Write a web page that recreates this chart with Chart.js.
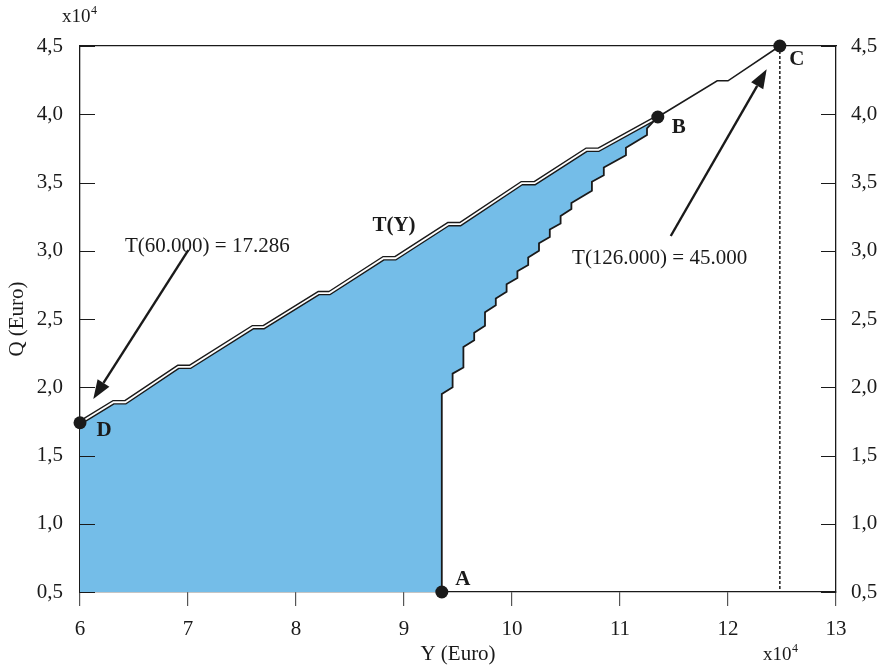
<!DOCTYPE html>
<html>
<head>
<meta charset="utf-8">
<title>T(Y)</title>
<script src="https://cdn.jsdelivr.net/npm/chart.js@4.4.1/dist/chart.umd.min.js"></script>
<style>
    html, body { margin: 0; padding: 0; background: #fff; }
    #wrap { width: 887px; height: 667px; }
</style>
</head>
<body>
<div id="wrap"><canvas id="chart"></canvas></div>
<script>
// Valeurs en x10^4 euro
const upperY = [6.0, 6.31, 6.42, 6.91, 7.02, 7.60, 7.70, 8.21, 8.31, 8.81, 8.92, 9.41, 9.52, 10.09, 10.21, 10.69, 10.80, 11.35];
const upperQ = [1.74, 1.89, 1.89, 2.15, 2.15, 2.44, 2.44, 2.69, 2.69, 2.945, 2.945, 3.195, 3.195, 3.495, 3.495, 3.74, 3.74, 3.98];

// Partie simple entre B et C
const tailY = [11.35, 11.9, 12.0, 12.48];
const tailQ = [3.98, 4.245, 4.245, 4.5];

// Escalier de A jusqu'a B
const stairY = [9.35, 9.35, 9.45, 9.45, 9.55, 9.55, 9.65, 9.65, 9.75, 9.75, 9.85, 9.85, 9.95, 9.95,
    10.05, 10.05, 10.15, 10.15, 10.25, 10.25, 10.35, 10.35, 10.45, 10.45, 10.55, 10.55,
    10.74, 10.74, 10.85, 10.85, 11.055, 11.055, 11.25, 11.25, 11.35];
const stairQ = [0.5, 1.95, 2.0, 2.1, 2.145, 2.295, 2.345, 2.40, 2.45, 2.55, 2.60, 2.65, 2.70, 2.755,
    2.80, 2.85, 2.895, 2.95, 3.0, 3.055, 3.10, 3.155, 3.20, 3.255, 3.305, 3.35,
    3.44, 3.505, 3.553, 3.61, 3.70, 3.755, 3.848, 3.897, 3.98];

// Points remarquables
const markNames = ['D', 'A', 'B', 'C'];
const markY = [6.0, 9.35, 11.35, 12.48];
const markQ = [1.74, 0.5, 3.98, 4.5];

const xTicks = [6, 7, 8, 9, 10, 11, 12, 13];
const qTicks = [0.5, 1.0, 1.5, 2.0, 2.5, 3.0, 3.5, 4.0, 4.5];

const INK = '#1a1a1a';
const BLUE = '#74bde8';
const SERIF = "'Liberation Serif', 'Times New Roman', serif";

function toPts(xs, ys) {
    return xs.map((x, i) => ({ x: x, y: ys[i] }));
}

const upperPts = toPts(upperY, upperQ);
const stairPts = toPts(stairY, stairQ);
const areaPts = [{ x: upperY[0], y: qTicks[0] }].concat(upperPts, stairPts.slice().reverse());
const dropPts = [{ x: markY[3], y: markQ[3] }, { x: markY[3], y: qTicks[0] }];

Chart.defaults.font.family = SERIF;
Chart.defaults.font.size = 21;
Chart.defaults.color = INK;

/**
 * Annotations : textes, fleches, graduations interieures
 */
const notesPlugin = {
    id: 'notes',
    afterDraw(chart) {
        const ctx = chart.ctx;
        const sx = chart.scales.x;
        const sy = chart.scales.y;
        const area = chart.chartArea;
        const px = v => sx.getPixelForValue(v);
        const py = v => sy.getPixelForValue(v);

        ctx.save();

        // graduations vers l'interieur (gauche et droite)
        ctx.strokeStyle = INK;
        ctx.lineWidth = 1.2;
        qTicks.forEach(v => {
            const y = Math.round(py(v)) + 0.5;
            ctx.beginPath();
            ctx.moveTo(area.left, y);
            ctx.lineTo(area.left + 15, y);
            ctx.moveTo(area.right - 15, y);
            ctx.lineTo(area.right, y);
            ctx.stroke();
        });

        // fleches
        function arrow(x0, y0, x1, y1) {
            const a = px(x0), b = py(y0), c = px(x1), d = py(y1);
            const ang = Math.atan2(d - b, c - a);
            const len = 19, half = 7;
            const bx = c - len * Math.cos(ang), by = d - len * Math.sin(ang);
            ctx.lineWidth = 2.4;
            ctx.beginPath();
            ctx.moveTo(a, b);
            ctx.lineTo(bx, by);
            ctx.stroke();
            ctx.beginPath();
            ctx.moveTo(c, d);
            ctx.lineTo(bx + half * Math.sin(ang), by - half * Math.cos(ang));
            ctx.lineTo(bx - half * Math.sin(ang), by + half * Math.cos(ang));
            ctx.closePath();
            ctx.fillStyle = INK;
            ctx.fill();
        }
        arrow(7.003, 3.005, 6.123, 1.914);
        arrow(11.47, 3.108, 12.358, 4.329);

        // textes
        ctx.fillStyle = INK;
        ctx.textBaseline = 'middle';
        ctx.font = '21px ' + SERIF;
        ctx.textAlign = 'left';
        ctx.fillText('T(60.000) = 17.286', px(6.417), py(3.033));
        ctx.fillText('T(126.000) = 45.000', px(10.556), py(2.94));
        ctx.font = 'bold 21px ' + SERIF;
        ctx.textAlign = 'center';
        ctx.fillText('T(Y)', px(8.907), py(3.181));

        // noms des points
        const offsets = { D: [24, 8], A: [21, -12], B: [21, 11], C: [17, 14] };
        markNames.forEach((n, i) => {
            const o = offsets[n];
            ctx.fillText(n, px(markY[i]) + o[0], py(markQ[i]) + o[1]);
        });

        // facteurs d'echelle x10^4
        function scaleNote(x, y) {
            ctx.textAlign = 'left';
            ctx.font = '19px ' + SERIF;
            ctx.fillText('x10', x, y);
            const w = ctx.measureText('x10').width;
            ctx.font = '12px ' + SERIF;
            ctx.fillText('4', x + w + 0.5, y - 6);
        }
        scaleNote(62, 17);
        scaleNote(763, 655);

        ctx.restore();
    }
};

const qLabel = v => Number(v).toFixed(1).replace('.', ',');

new Chart(document.getElementById('chart'), {
    type: 'scatter',
    data: {
        datasets: [
            {
                label: 'zone',
                data: areaPts,
                showLine: true,
                fill: 'shape',
                backgroundColor: BLUE,
                borderWidth: 0,
                pointRadius: 0,
                order: 6
            },
            {
                label: 'escalier',
                data: stairPts,
                showLine: true,
                borderColor: INK,
                borderWidth: 1.8,
                pointRadius: 0,
                clip: false,
                order: 5
            },
            {
                label: 'C-vertical',
                data: dropPts,
                showLine: true,
                borderColor: INK,
                borderWidth: 1.5,
                borderDash: [3, 2],
                pointRadius: 0,
                clip: false,
                order: 5
            },
            {
                label: 'T(Y) contour',
                data: upperPts,
                showLine: true,
                borderColor: INK,
                borderWidth: 4.6,
                pointRadius: 0,
                clip: false,
                order: 4
            },
            {
                label: 'T(Y)',
                data: upperPts,
                showLine: true,
                borderColor: '#ffffff',
                borderWidth: 1.8,
                pointRadius: 0,
                clip: false,
                order: 3
            },
            {
                label: 'T(Y) B-C',
                data: toPts(tailY, tailQ),
                showLine: true,
                borderColor: INK,
                borderWidth: 1.6,
                pointRadius: 0,
                clip: false,
                order: 3
            },
            {
                label: 'points',
                data: toPts(markY, markQ),
                pointRadius: 6.5,
                pointBackgroundColor: INK,
                pointBorderWidth: 0,
                clip: false,
                order: 0
            }
        ]
    },
    options: {
        responsive: true,
        maintainAspectRatio: false,
        animation: false,
        layout: { padding: 0 },
        plugins: {
            legend: { display: false },
            tooltip: { enabled: false }
        },
        scales: {
            x: {
                type: 'linear',
                axis: 'x',
                position: 'bottom',
                min: 6,
                max: 13,
                afterBuildTicks: s => { s.ticks = xTicks.map(v => ({ value: v })); },
                afterFit: s => { s.height = 75; },
                grid: { drawOnChartArea: false, drawTicks: true, tickLength: 14, color: '#555', lineWidth: 1.2 },
                border: { display: true, color: INK, width: 1.3 },
                ticks: { padding: 11, color: INK, font: { size: 21 } },
                title: { display: true, text: 'Y (Euro)', color: INK, font: { size: 21 }, padding: { top: 0, bottom: 0 } }
            },
            xTop: {
                type: 'linear',
                axis: 'x',
                position: 'top',
                min: 6,
                max: 13,
                afterFit: s => { s.height = 46; },
                grid: { display: false, drawTicks: false },
                border: { display: true, color: INK, width: 1.3 },
                ticks: { display: false }
            },
            y: {
                type: 'linear',
                axis: 'y',
                position: 'left',
                min: 0.5,
                max: 4.5,
                afterBuildTicks: s => { s.ticks = qTicks.map(v => ({ value: v })); },
                afterFit: s => { s.width = 80; },
                grid: { display: false, drawTicks: false },
                border: { display: true, color: INK, width: 1.3 },
                ticks: { padding: 17, color: INK, font: { size: 21 }, callback: qLabel },
                title: { display: true, text: 'Q (Euro)', color: INK, font: { size: 21 }, padding: { top: 5, bottom: 0 } }
            },
            y2: {
                type: 'linear',
                axis: 'y',
                position: 'right',
                min: 0.5,
                max: 4.5,
                afterBuildTicks: s => { s.ticks = qTicks.map(v => ({ value: v })); },
                afterFit: s => { s.width = 51; },
                grid: { display: false, drawTicks: false },
                border: { display: true, color: INK, width: 1.3 },
                ticks: { padding: 15, color: INK, font: { size: 21 }, callback: qLabel }
            }
        }
    },
    plugins: [notesPlugin]
});
</script>
</body>
</html>
